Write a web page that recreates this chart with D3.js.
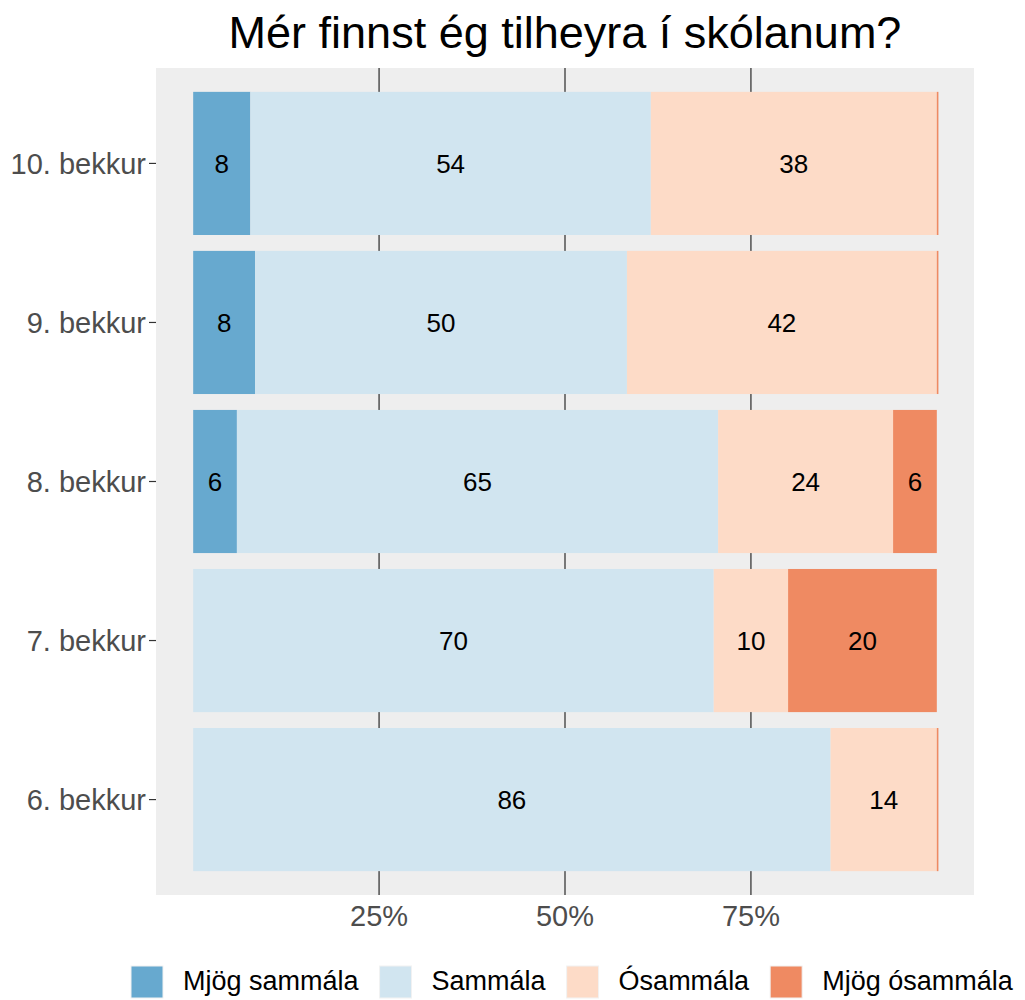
<!DOCTYPE html>
<html>
<head>
<meta charset="utf-8">
<script src="https://cdn.jsdelivr.net/npm/d3@7"></script>
<style>
  body { margin: 0; background: #fff; }
  text { font-family: "Liberation Sans", Arial, Helvetica, sans-serif; }
</style>
</head>
<body>
<div id="chart"></div>
<script>
// grades, top to bottom
var grades = ["10. bekkur", "9. bekkur", "8. bekkur", "7. bekkur", "6. bekkur"];
var responses = ["Mjög sammála", "Sammála", "Ósammála", "Mjög ósammála"];
var colors = ["#67A9CF", "#D1E5F0", "#FDDBC7", "#EF8A62"];

// percent per grade (null = no answers in that group)
var mjogSammala   = [7.69, 8.33, 5.88, null, null];
var sammala       = [53.85, 50.00, 64.71, 70.00, 85.71];
var osammala      = [38.46, 41.67, 23.53, 10.00, 14.29];
var mjogOsammala  = [0, 0, 5.88, 20.00, 0];

var xTicks = [25, 50, 75];

var series = [mjogSammala, sammala, osammala, mjogOsammala];

var W = 1025, H = 1000;
var panel = {x0: 156, x1: 974, y0: 68, y1: 895};

var svg = d3.select("#chart").append("svg")
  .attr("width", W)
  .attr("height", H);

var x = d3.scaleLinear().domain([-5, 105]).range([panel.x0, panel.x1]);
var y = d3.scalePoint().domain(grades).range([panel.y0, panel.y1]).padding(0.6);
var barH = y.step() * 0.9;

// panel bg
svg.append("rect")
  .attr("x", panel.x0).attr("y", panel.y0)
  .attr("width", panel.x1 - panel.x0).attr("height", panel.y1 - panel.y0)
  .attr("fill", "#EEEEEE");

// grid
svg.selectAll("line.grid")
  .data(xTicks)
  .enter().append("line")
  .attr("class", "grid")
  .attr("x1", function(d) { return x(d); })
  .attr("x2", function(d) { return x(d); })
  .attr("y1", panel.y0).attr("y2", panel.y1)
  .attr("stroke", "#5a5a5a")
  .attr("stroke-width", 1.6);

// build stacked segments
var segs = [];
grades.forEach(function(g, i) {
  var acc = 0;
  series.forEach(function(s, k) {
    var v = s[i];
    if (v === null) return;
    segs.push({grade: g, k: k, start: acc, value: v});
    acc += v;
  });
});

svg.selectAll("rect.bar")
  .data(segs)
  .enter().append("rect")
  .attr("class", "bar")
  .attr("x", function(d) { return x(d.start); })
  .attr("y", function(d) { return y(d.grade) - barH / 2; })
  .attr("width", function(d) { return Math.max(x(d.start + d.value) - x(d.start), 1.6); })
  .attr("height", barH)
  .attr("fill", function(d) { return colors[d.k]; });

svg.selectAll("text.lab")
  .data(segs.filter(function(d) { return d.value > 0; }))
  .enter().append("text")
  .attr("class", "lab")
  .attr("x", function(d) { return x(d.start + d.value / 2); })
  .attr("y", function(d) { return y(d.grade); })
  .attr("dy", "0.36em")
  .attr("text-anchor", "middle")
  .attr("font-size", "26px")
  .attr("fill", "#000")
  .text(function(d) { return Math.round(d.value); });

// y axis
var yAxis = svg.append("g");
grades.forEach(function(g) {
  yAxis.append("line")
    .attr("x1", panel.x0 - 7).attr("x2", panel.x0)
    .attr("y1", y(g)).attr("y2", y(g))
    .attr("stroke", "#333").attr("stroke-width", 1.2);
  yAxis.append("text")
    .attr("x", panel.x0 - 10)
    .attr("y", y(g))
    .attr("dy", "0.36em")
    .attr("text-anchor", "end")
    .attr("font-size", "29px")
    .attr("fill", "#4D4D4D")
    .text(g);
});

// x axis labels
svg.selectAll("text.xt")
  .data(xTicks)
  .enter().append("text")
  .attr("class", "xt")
  .attr("x", function(d) { return x(d); })
  .attr("y", 926)
  .attr("text-anchor", "middle")
  .attr("font-size", "29px")
  .attr("fill", "#4D4D4D")
  .text(function(d) { return d + "%"; });

// title
svg.append("text")
  .attr("x", (panel.x0 + panel.x1) / 2)
  .attr("y", 48)
  .attr("text-anchor", "middle")
  .attr("font-size", "45px")
  .attr("fill", "#000")
  .text("Mér finnst ég tilheyra í skólanum?");

// legend
var lg = svg.append("g");
var lx = 131;
responses.forEach(function(r, k) {
  lg.append("rect")
    .attr("x", lx).attr("y", 966)
    .attr("width", 32).attr("height", 32)
    .attr("fill", colors[k])
    .attr("stroke", "#F2F2F2").attr("stroke-width", 1);
  var t = lg.append("text")
    .attr("x", lx + 52)
    .attr("y", 990)
    .attr("font-size", "27px")
    .attr("fill", "#000")
    .text(r);
  lx += 52 + t.node().getComputedTextLength() + 21;
});
</script>
</body>
</html>
